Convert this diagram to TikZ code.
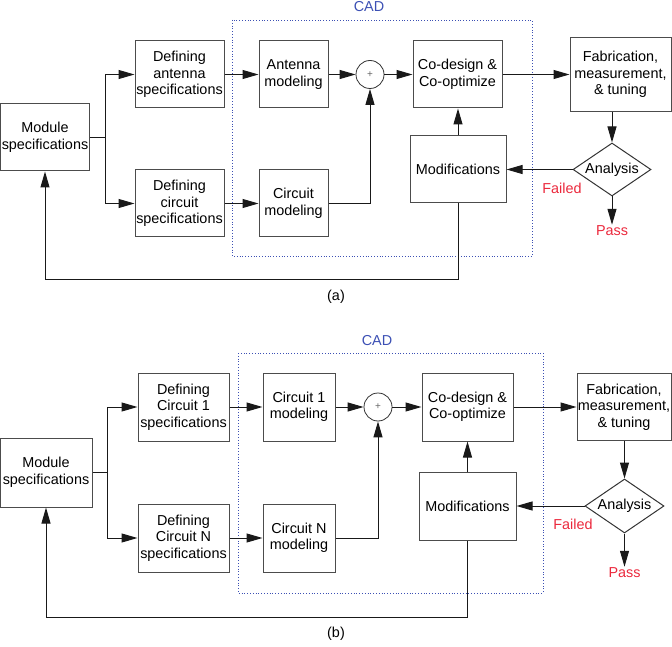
\documentclass[tikz,border=0pt]{standalone}
\usepackage{fontspec}
\setmainfont{Liberation Sans}
\usetikzlibrary{arrows.meta, shapes.geometric}
\definecolor{cadblue}{RGB}{60,80,180}
\definecolor{failred}{RGB}{235,40,60}
\tikzset{
    txt/.style={font=\fontsize{14.4}{16.5}\selectfont},
    blk/.style={txt, draw=black!70, line width=1pt, align=center, inner sep=0pt},
    ln/.style={line width=1pt, black!90},
    arr/.style={ln, -{Triangle[length=16pt,width=9pt]}},
    sumnode/.style={circle, draw=black!80, line width=0.8pt, minimum size=28pt, inner sep=0pt,
        font=\fontsize{10}{10}\selectfont, text=black!60},
    decide/.style={txt, diamond, draw=black!80, line width=1pt, inner sep=0pt, shape aspect=1.47},
    cadbox/.style={draw=cadblue, dotted, line width=0.8pt},
    cadlbl/.style={txt, text=cadblue, inner sep=1pt},
    redlbl/.style={txt, text=failred, inner sep=1pt}
}

\begin{document}
\begin{tikzpicture}[x=1pt, y=-1pt]
                \useasboundingbox (0,0) rectangle (672,647);
                \draw[cadbox] (232,20) rectangle (532,256);
                \node[cadlbl] (cadA) at (369,7) {CAD};
                \node[blk, minimum width=89pt, minimum height=67pt] (modA) at (45,137.5) {Module\\specifications};
                \node[blk, minimum width=89pt, minimum height=67pt] (defAA) at (179.5,74.5) {Defining\\antenna\\specifications};
                \node[blk, minimum width=89pt, minimum height=67pt] (defAC) at (179.5,203.5) {Defining\\circuit\\specifications};
                \node[blk, minimum width=69pt, minimum height=67pt] (antA) at (293.5,74.5) {Antenna\\modeling};
                \node[blk, minimum width=69pt, minimum height=67pt] (cirA) at (293.5,203.5) {Circuit\\modeling};
                \node[sumnode] (sumA) at (370,74.5) {+};
                \node[blk, minimum width=89pt, minimum height=67pt] (codA) at (457.5,74.5) {Co-design \&\\Co-optimize};
                \node[blk, minimum width=101pt, minimum height=74pt] (fabA) at (620.5,74.5) {Fabrication,\\measurement,\\\& tuning};
                \node[blk, minimum width=96pt, minimum height=67pt] (modfA) at (458,169.5) {Modifications};
                \node[decide, minimum width=78pt, minimum height=53pt] (anaA) at (612,169.5) {Analysis};
                \node[redlbl] (failA) at (562,188) {Failed};
                \node[redlbl] (passA) at (612,231) {Pass};
                \node[txt] (capA) at (336,297) {(a)};
                \draw[ln] (modA.east) -- ++(15,0) coordinate (brA);
                \draw[arr] (brA) |- (defAA.west);
                \draw[arr] (brA) |- (defAC.west);
                \draw[arr] (defAA) -- (antA);
                \draw[arr] (defAC) -- (cirA);
                \draw[arr] (antA) -- (sumA);
                \draw[arr] (cirA.east) -| (sumA.south);
                \draw[arr] (sumA) -- (codA);
                \draw[arr] (codA) -- (fabA);
                \draw[arr] (fabA.south -| anaA) -- (anaA.north);
                \draw[arr] (anaA.west) -- (modfA.east);
                \draw[arr] (anaA.south) -- (passA.north);
                \draw[arr] (modfA.north) -- (modfA.north |- codA.south);
                \draw[arr] (modfA.south) -- ++(0,75.5) -| (modA.south);
                \draw[cadbox] (238,353) rectangle (543,593);
                \node[cadlbl] (cadB) at (377,341) {CAD};
                \node[blk, minimum width=92pt, minimum height=69pt] (modB) at (46,472.5) {Module\\specifications};
                \node[blk, minimum width=91pt, minimum height=68pt] (defB1) at (183.5,407) {Defining\\Circuit 1\\specifications};
                \node[blk, minimum width=91pt, minimum height=68pt] (defBN) at (183.5,538) {Defining\\Circuit N\\specifications};
                \node[blk, minimum width=72pt, minimum height=68pt] (cirB1) at (299,407) {Circuit 1\\modeling};
                \node[blk, minimum width=72pt, minimum height=68pt] (cirBN) at (299,538) {Circuit N\\modeling};
                \node[sumnode] (sumB) at (378,407) {+};
                \node[blk, minimum width=91pt, minimum height=68pt] (codB) at (467.5,407) {Co-design \&\\Co-optimize};
                \node[blk, minimum width=94pt, minimum height=67pt] (fabB) at (624,407) {Fabrication,\\measurement,\\\& tuning};
                \node[blk, minimum width=97pt, minimum height=68pt] (modfB) at (467.5,506) {Modifications};
                \node[decide, minimum width=79pt, minimum height=54pt] (anaB) at (624.5,506) {Analysis};
                \node[redlbl] (failB) at (573,524) {Failed};
                \node[redlbl] (passB) at (624.5,573) {Pass};
                \node[txt] (capB) at (336,634) {(b)};
                \draw[ln] (modB.east) -- ++(15,0) coordinate (brB);
                \draw[arr] (brB) |- (defB1.west);
                \draw[arr] (brB) |- (defBN.west);
                \draw[arr] (defB1) -- (cirB1);
                \draw[arr] (defBN) -- (cirBN);
                \draw[arr] (cirB1) -- (sumB);
                \draw[arr] (cirBN.east) -| (sumB.south);
                \draw[arr] (sumB) -- (codB);
                \draw[arr] (codB) -- (fabB);
                \draw[arr] (fabB.south -| anaB) -- (anaB.north);
                \draw[arr] (anaB.west) -- (modfB.east);
                \draw[arr] (anaB.south) -- (passB.north);
                \draw[arr] (modfB.north) -- (modfB.north |- codB.south);
                \draw[arr] (modfB.south) -- ++(0,77) -| (modB.south);
            \end{tikzpicture}
\end{document}
